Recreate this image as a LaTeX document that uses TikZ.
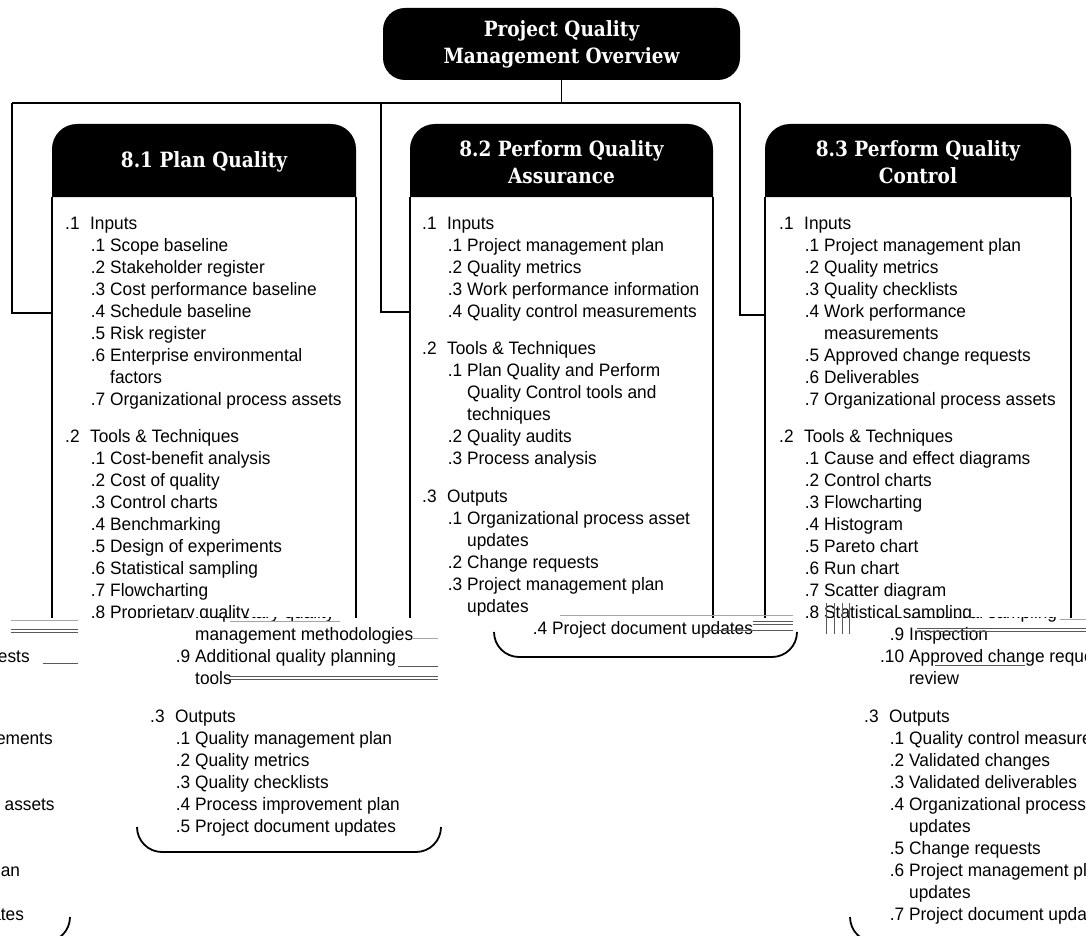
\documentclass[tikz,border=0pt]{standalone}
\usepackage{fontspec}
\setmainfont{Liberation Sans}[FakeStretch=0.96]
\newfontfamily\headfont{DejaVu Serif}[FakeStretch=0.88]

% list line helpers: section line, numbered item, continuation line
\newcommand\qsec[2]{\makebox[25pt][l]{#1}#2}
\newcommand\qitem[2]{\hspace*{25pt}\makebox[15pt][r]{#1}\hspace*{5pt}#2}
\newcommand\qcont[1]{\hspace*{45pt}#1}

\tikzset{
  conn/.style={line width=1.8pt},
  side/.style={line width=1.8pt},
  headtxt/.style={text=white, inner sep=0pt, align=center,
    font=\headfont\bfseries\fontsize{21}{27}\selectfont},
  bodytxt/.style={anchor=base west, inner sep=0pt,
    font=\fontsize{18}{22}\selectfont},
  smear/.style={line width=0.8pt, black!65},
}

% the three list bodies and their rounded bottom edges
\newcommand\qbodies[1]{%
  \node[bodytxt] (#1l1) at (65,229.5) {\begin{tabular}[t]{@{}l@{}}
    \qsec{.1}{Inputs}\\
    \qitem{.1}{Scope baseline}\\
    \qitem{.2}{Stakeholder register}\\
    \qitem{.3}{Cost performance baseline}\\
    \qitem{.4}{Schedule baseline}\\
    \qitem{.5}{Risk register}\\
    \qitem{.6}{Enterprise environmental}\\
    \qcont{factors}\\
    \qitem{.7}{Organizational process assets}\\[15pt]
    \qsec{.2}{Tools \& Techniques}\\
    \qitem{.1}{Cost-benefit analysis}\\
    \qitem{.2}{Cost of quality}\\
    \qitem{.3}{Control charts}\\
    \qitem{.4}{Benchmarking}\\
    \qitem{.5}{Design of experiments}\\
    \qitem{.6}{Statistical sampling}\\
    \qitem{.7}{Flowcharting}\\
    \qitem{.8}{Proprietary quality}\\
    \qcont{management methodologies}\\
    \qitem{.9}{Additional quality planning}\\
    \qcont{tools}\\[16pt]
    \qsec{.3}{Outputs}\\
    \qitem{.1}{Quality management plan}\\
    \qitem{.2}{Quality metrics}\\
    \qitem{.3}{Quality checklists}\\
    \qitem{.4}{Process improvement plan}\\
    \qitem{.5}{Project document updates}
  \end{tabular}};
  \node[bodytxt] (#1l2) at (422,229.5) {\begin{tabular}[t]{@{}l@{}}
    \qsec{.1}{Inputs}\\
    \qitem{.1}{Project management plan}\\
    \qitem{.2}{Quality metrics}\\
    \qitem{.3}{Work performance information}\\
    \qitem{.4}{Quality control measurements}\\[15pt]
    \qsec{.2}{Tools \& Techniques}\\
    \qitem{.1}{Plan Quality and Perform}\\
    \qcont{Quality Control tools and}\\
    \qcont{techniques}\\
    \qitem{.2}{Quality audits}\\
    \qitem{.3}{Process analysis}\\[16pt]
    \qsec{.3}{Outputs}\\
    \qitem{.1}{Organizational process asset}\\
    \qcont{updates}\\
    \qitem{.2}{Change requests}\\
    \qitem{.3}{Project management plan}\\
    \qcont{updates}\\
    \qitem{.4}{Project document updates}
  \end{tabular}};
  \node[bodytxt] (#1l3) at (779,229.5) {\begin{tabular}[t]{@{}l@{}}
    \qsec{.1}{Inputs}\\
    \qitem{.1}{Project management plan}\\
    \qitem{.2}{Quality metrics}\\
    \qitem{.3}{Quality checklists}\\
    \qitem{.4}{Work performance}\\
    \qcont{measurements}\\
    \qitem{.5}{Approved change requests}\\
    \qitem{.6}{Deliverables}\\
    \qitem{.7}{Organizational process assets}\\[15pt]
    \qsec{.2}{Tools \& Techniques}\\
    \qitem{.1}{Cause and effect diagrams}\\
    \qitem{.2}{Control charts}\\
    \qitem{.3}{Flowcharting}\\
    \qitem{.4}{Histogram}\\
    \qitem{.5}{Pareto chart}\\
    \qitem{.6}{Run chart}\\
    \qitem{.7}{Scatter diagram}\\
    \qitem{.8}{Statistical sampling}\\
    \qitem{.9}{Inspection}\\
    \qitem{.10}{Approved change requests}\\
    \qcont{review}\\[16pt]
    \qsec{.3}{Outputs}\\
    \qitem{.1}{Quality control measurements}\\
    \qitem{.2}{Validated changes}\\
    \qitem{.3}{Validated deliverables}\\
    \qitem{.4}{Organizational process assets}\\
    \qcont{updates}\\
    \qitem{.5}{Change requests}\\
    \qitem{.6}{Project management plan}\\
    \qcont{updates}\\
    \qitem{.7}{Project document updates}
  \end{tabular}};
  \draw[side] (52,827) [rounded corners=25pt] -- (52,852) -- (356,852) -- (356,827);
  \draw[side] (409,632) [rounded corners=25pt] -- (409,657) -- (712,657) -- (712,632);
  \draw[side] (765,917) [rounded corners=25pt] -- (765,942) -- (1071,942) -- (1071,917);
}

\begin{document}
\begin{tikzpicture}[x=1pt, y=-1pt]
\useasboundingbox (0,0) rectangle (1086,936);

% overview box
\node[headtxt, fill=black, rounded corners=22pt, minimum width=357pt,
  minimum height=72pt] (top) at (561.5,44) {Project Quality\\Management Overview};

% process box headers
\fill (52,197) [rounded corners=25pt] -- (52,124) -- (356,124) [sharp corners] -- (356,197) -- cycle;
\fill (410,197) [rounded corners=25pt] -- (410,124) -- (713,124) [sharp corners] -- (713,197) -- cycle;
\fill (765,197) [rounded corners=25pt] -- (765,124) -- (1071,124) [sharp corners] -- (1071,197) -- cycle;
\node[headtxt] (h1) at (204,162) {8.1 Plan Quality};
\node[headtxt] (h2) at (561.5,162) {8.2 Perform Quality\\Assurance};
\node[headtxt] (h3) at (918,162) {8.3 Perform Quality\\Control};

% connector bus
\coordinate (bus) at (561.5,103);
\coordinate (busL) at (12,103);
\coordinate (busM) at (381,103);
\coordinate (busR) at (740,103);
\coordinate (b1w) at (52,313);
\coordinate (b2w) at (410,312);
\coordinate (b3w) at (765,315);
\draw[conn] (top.south) -- (bus);
\draw[conn] (busL) -- (busR);
\draw[conn] (busL) |- (b1w);
\draw[conn] (busM) |- (b2w);
\draw[conn] (busR) |- (b3w);

% upper band: bodies and box sides as laid out
\begin{scope}
  \clip (0,0) rectangle (1086,617);
  \qbodies{a}
  \draw[side] (52,197) -- (52,640);   \draw[side] (356,197) -- (356,640);
  \draw[side] (410,197) -- (410,640); \draw[side] (713,197) -- (713,640);
  \draw[side] (765,197) -- (765,640); \draw[side] (1071,197) -- (1071,640);
\end{scope}

% lower band: rows displaced to the right, wrapping round the edge
\begin{scope}
  \clip (0,617) rectangle (1086,936);
  \begin{scope}[xshift=85pt]\qbodies{b}\end{scope}
  \begin{scope}[xshift=-1001pt]\qbodies{c}\end{scope}
\end{scope}

% smeared scan lines along the seam
\draw[smear, black!35] (11,620) -- (78,620);
\draw[smear] (11,629) -- (78,629);
\draw[smear] (11,632) -- (78,632);
\draw[smear] (43,663) -- (78,663);
\draw[smear, black!35] (230,621) -- (340,621);
\draw[smear, black!35] (413,638) -- (438,638);
\draw[smear] (398,666) -- (438,666);
\draw[smear] (230,676) -- (438,676);
\draw[smear] (230,679) -- (438,679);
\draw[smear, black!35] (560,615) -- (793,615);
\draw[smear] (753,621) -- (793,621);
\draw[smear] (753,624) -- (793,624);
\draw[smear] (707,630) -- (793,630);
\draw[smear, black!35] (1060,619) -- (1086,619);
\draw[smear] (917,628) -- (1086,628);
\draw[smear] (917,631) -- (1086,631);
\draw[smear] (935,665) -- (1025,665);
\draw[smear] (826,603) -- (826,634);
\draw[smear] (834,603) -- (834,634);
\draw[smear] (842,603) -- (842,634);
\draw[smear] (849,603) -- (849,634);
\end{tikzpicture}
\end{document}
